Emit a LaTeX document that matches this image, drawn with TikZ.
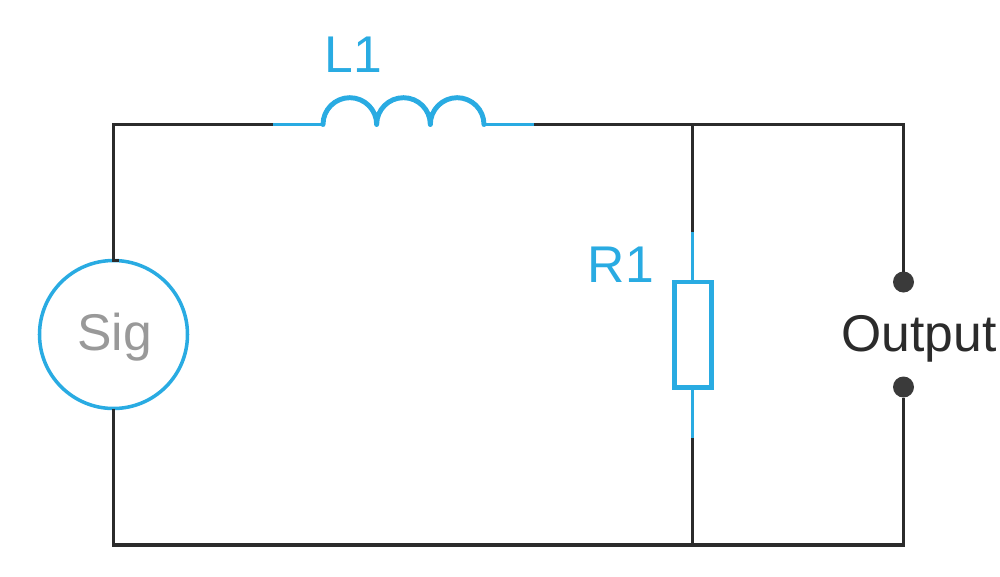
\documentclass[tikz,border=0pt]{standalone}
\usepackage{fontspec}
\setmainfont{Liberation Sans}
\usepackage{xcolor}
\definecolor{partblue}{HTML}{29ABE2}
\definecolor{wiregray}{HTML}{2B2B2B}
\definecolor{siggray}{HTML}{999999}
\definecolor{dotgray}{HTML}{3A3A3A}
\tikzset{
  wire/.style={draw=wiregray, line width=1pt},
  lead/.style={draw=partblue, line width=1pt},
  coil/.style={draw=partblue, line width=1.4pt, line cap=round, line join=round},
  label/.style={font=\fontsize{14.7}{17}\selectfont, inner sep=0pt, anchor=base},
  source/.style={circle, draw=partblue, line width=1pt, minimum size=14.8mm, inner sep=0pt, outer sep=0pt},
  resistor/.style={rectangle, draw=partblue, line width=1.4pt, minimum width=3.7mm, minimum height=10.55mm, inner sep=0pt, outer sep=0pt},
  terminal/.style={circle, fill=dotgray, minimum size=2.1mm, inner sep=0pt, outer sep=0pt}
}
\begin{document}
\begin{tikzpicture}[x=0.1mm, y=-0.1mm]
\useasboundingbox (0,0) rectangle (1000,576);
% corners and junctions
\coordinate (tl) at (113.5,124.5);
\coordinate (tr) at (903.5,124.5);
\coordinate (bl) at (113.5,545);
\coordinate (br) at (903.5,545);
\coordinate (jt) at (692.5,124.5);
\coordinate (jb) at (692.5,545);
\coordinate (la) at (273,124.5);
\coordinate (lb) at (323,124.5);
\coordinate (lc) at (484,124.5);
\coordinate (ld) at (534,124.5);
\coordinate (ra) at (692.5,232);
\coordinate (rb) at (692.5,438);
\coordinate (hook) at (119,260.5);
% parts
\node[source] (sig) at (113.5,334.5) {};
\node[resistor] (r1) at (693,334.7) {};
\node[terminal] (outa) at (903.5,282) {};
\node[terminal] (outb) at (903.5,387) {};
\draw[coil] (lb) arc[start angle=180, end angle=0, radius=2.683mm]
  arc[start angle=180, end angle=0, radius=2.683mm]
  arc[start angle=180, end angle=0, radius=2.683mm];
\draw[lead] (la) -- (lb);
\draw[lead] (lc) -- (ld);
\draw[lead] (ra) -- (ra |- r1.north);
\draw[lead] (rb |- r1.south) -- (rb);
% wiring
\draw[wire] (hook) -- (tl |- hook) -- (tl) -- (la);
\draw[wire] (ld) -- (jt);
\draw[wire] (jt) -- (tr) -- (outa);
\draw[wire] (jt) -- (ra);
\draw[wire] (rb) -- (jb);
\draw[wire] (tl |- sig.south) -- (bl) -- (br) -- (outb);
% labels
\node[label, text=siggray] (siglabel) at (114.5,350) {Sig};
\node[label, text=partblue] (l1) at (353.5,72) {L1};
\node[label, text=partblue] (r1label) at (621,282) {R1};
\node[label, text=wiregray] (output) at (919,351) {Output};
\end{tikzpicture}
\end{document}
